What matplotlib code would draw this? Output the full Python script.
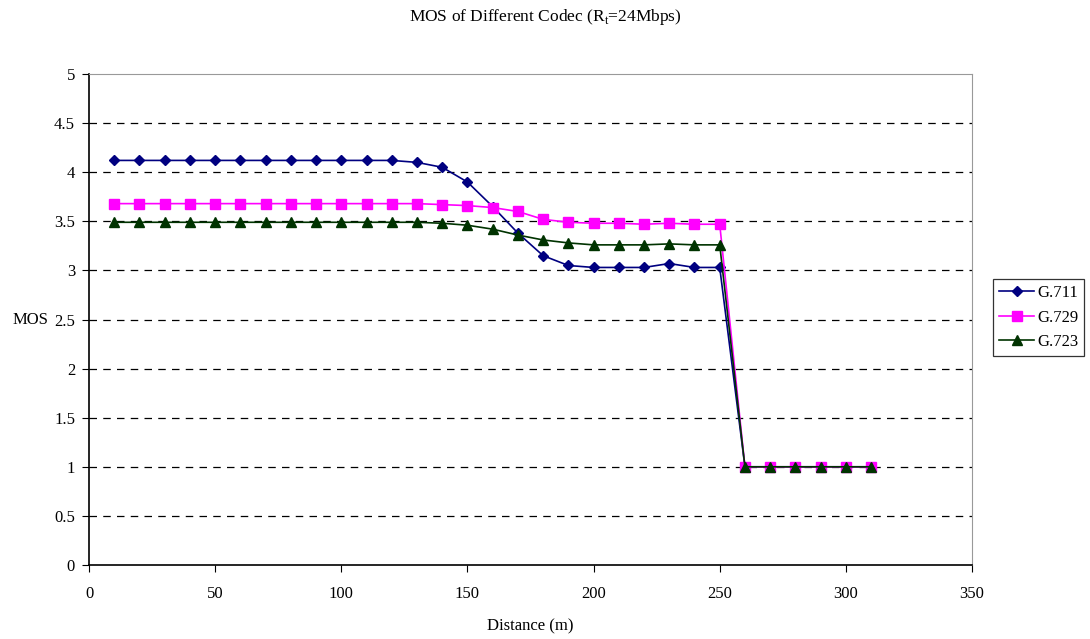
import numpy as np
import matplotlib.pyplot as plt

plt.rcParams['font.family'] = 'Liberation Serif'
plt.rcParams['mathtext.fontset'] = 'custom'
plt.rcParams['mathtext.rm'] = 'Liberation Serif'

distance = [10, 20, 30, 40, 50, 60, 70, 80, 90, 100, 110, 120, 130, 140, 150, 160,
            170, 180, 190, 200, 210, 220, 230, 240, 250, 260, 270, 280, 290, 300, 310]
g711 = [4.12, 4.12, 4.12, 4.12, 4.12, 4.12, 4.12, 4.12, 4.12, 4.12, 4.12, 4.12, 4.10, 4.05,
        3.90, 3.65, 3.38, 3.15, 3.05, 3.03, 3.03, 3.03, 3.07, 3.03, 3.03,
        1, 1, 1, 1, 1, 1]
g729 = [3.68, 3.68, 3.68, 3.68, 3.68, 3.68, 3.68, 3.68, 3.68, 3.68, 3.68, 3.68, 3.68, 3.67,
        3.66, 3.64, 3.60, 3.52, 3.49, 3.48, 3.48, 3.47, 3.48, 3.47, 3.47,
        1, 1, 1, 1, 1, 1]
g723 = [3.49, 3.49, 3.49, 3.49, 3.49, 3.49, 3.49, 3.49, 3.49, 3.49, 3.49, 3.49, 3.49, 3.48,
        3.46, 3.42, 3.36, 3.31, 3.28, 3.26, 3.26, 3.26, 3.27, 3.26, 3.26,
        1, 1, 1, 1, 1, 1]

fig = plt.figure(figsize=(10.9, 6.39), dpi=100)
ax = fig.add_axes([89/1090, 1 - 565/639, (972 - 89)/1090, (565 - 74)/639])

ax.plot(distance, g711, color='#000080', marker='D', markersize=5.5, lw=1.2, label='G.711')
ax.plot(distance, g729, color='#FF00FF', marker='s', markersize=6.5, lw=1.2, label='G.729')
ax.plot(distance, g723, color='#003300', marker='^', markersize=7, lw=1.2, label='G.723')

ax.set_xlim(0, 350)
ax.set_ylim(0, 5)
ax.set_xticks(np.arange(0, 351, 50))
ax.set_yticks(np.arange(0, 5.01, 0.5))
ax.set_yticklabels(['0', '0.5', '1', '1.5', '2', '2.5', '3', '3.5', '4', '4.5', '5'])
for y in np.arange(0.5, 5, 0.5):
    ax.axhline(y, color='black', lw=0.9, ls=(0, (6, 5)), zorder=0)

ax.tick_params(labelsize=12, direction='out', length=5, colors='black', pad=5)
ax.tick_params(axis='x', pad=10)
ax.spines['top'].set_color('#999999')
ax.spines['right'].set_color('#999999')
ax.spines['left'].set_linewidth(1.2)
ax.spines['bottom'].set_linewidth(1.2)

ax.set_xlabel('Distance (m)', fontsize=12, labelpad=12)
fig.text(13/1090, 1 - 320/639, 'MOS', fontsize=12, va='center', ha='left')
fig.suptitle(r'MOS of Different Codec (R$_\mathrm{t}$=24Mbps)', fontsize=12.5, y=1 - 17/639, va='center')

leg = ax.legend(loc='center left', bbox_to_anchor=(1.024, 0.504), fontsize=12, frameon=True,
                fancybox=False, edgecolor='black', handlelength=2.1, borderpad=0.35,
                labelspacing=0.5, handletextpad=0.2, borderaxespad=0)
leg.get_frame().set_linewidth(0.9)

fig.savefig('out.png', dpi=100)
